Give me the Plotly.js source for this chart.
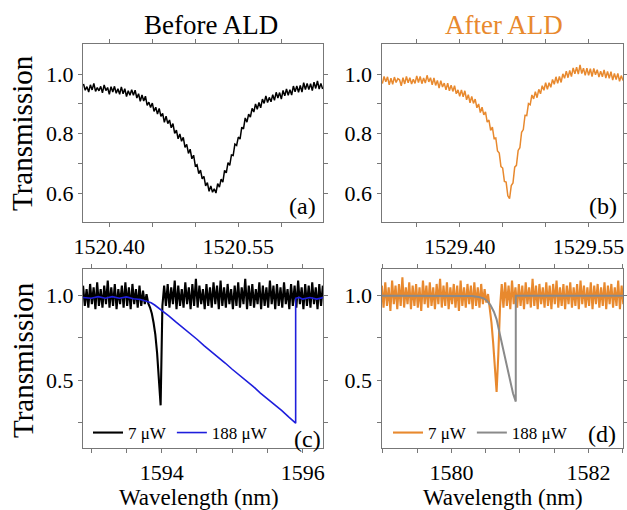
<!DOCTYPE html>
<html><head><meta charset="utf-8">
<script src="https://cdn.plot.ly/plotly-3.0.1.min.js"></script>
<style>html,body{margin:0;padding:0;background:#fff}</style>
</head><body><div id="chart" style="width:627px;height:510px"></div>
<script>
// ---- Panel (a): Before ALD, low power scan ----
const aX0 = 1520.370, aDX = 0.002;
const aTrans = [0.967,0.946,0.958,0.940,0.964,0.947,0.969,0.942,0.955,0.944,
0.959,0.937,0.964,0.945,0.955,0.932,0.958,0.940,0.959,0.936,
0.951,0.932,0.957,0.934,0.951,0.925,0.944,0.929,0.948,0.929,
0.946,0.920,0.934,0.909,0.930,0.910,0.926,0.895,0.906,0.888,
0.903,0.875,0.889,0.866,0.885,0.858,0.868,0.838,0.859,0.834,
0.846,0.820,0.834,0.801,0.812,0.783,0.799,0.775,0.788,0.754,
0.764,0.734,0.748,0.716,0.728,0.692,0.696,0.666,0.678,0.649,
0.657,0.625,0.636,0.607,0.625,0.604,0.615,0.601,0.633,0.621,
0.648,0.638,0.677,0.669,0.703,0.694,0.729,0.727,0.765,0.761,
0.789,0.782,0.822,0.816,0.853,0.839,0.866,0.856,0.885,0.873,
0.900,0.882,0.905,0.887,0.916,0.902,0.927,0.905,0.922,0.907,
0.931,0.912,0.939,0.920,0.938,0.916,0.945,0.927,0.950,0.929,
0.948,0.930,0.960,0.941,0.960,0.939,0.962,0.940,0.971,0.948,
0.969,0.948,0.968,0.945,0.973,0.952,0.977,0.950,0.969,0.950];

// ---- Panel (b): After ALD, low power scan ----
const bX0 = 1529.310, bDX = 0.002;
const bTrans = [0.968,0.992,0.974,0.991,0.964,0.986,0.966,0.990,0.972,0.985,
0.981,0.961,0.988,0.967,0.992,0.971,0.988,0.967,0.983,0.969,
0.994,0.972,0.992,0.968,0.987,0.970,0.996,0.974,0.988,0.964,
0.987,0.962,0.979,0.953,0.978,0.957,0.970,0.947,0.970,0.944,
0.963,0.942,0.961,0.934,0.947,0.926,0.947,0.924,0.944,0.914,
0.931,0.904,0.925,0.902,0.916,0.887,0.900,0.871,0.889,0.863,
0.873,0.839,0.846,0.811,0.822,0.784,0.786,0.742,0.735,0.690,
0.685,0.640,0.638,0.592,0.582,0.626,0.635,0.688,0.694,0.744,
0.753,0.805,0.814,0.862,0.861,0.901,0.897,0.930,0.917,0.941,
0.921,0.949,0.934,0.961,0.946,0.971,0.949,0.971,0.956,0.982,
0.966,0.991,0.969,0.992,0.972,1.001,0.986,1.010,0.988,1.012,
0.992,1.021,1.001,1.023,1.000,1.031,1.002,1.020,0.996,1.020,
0.996,1.018,0.992,1.019,0.998,1.015,0.990,1.010,0.991,1.014,
0.987,1.009,0.986,1.008,0.980,1.002,0.982,1.002,0.976,0.995,0.979];

// ---- Panel (c): Before ALD, 7 uW and 188 uW ----
const cX0 = 1592.885, cDX = 0.025;
const cLow = [1.06,0.94,1.04,0.93,1.07,0.95,1.05,0.92,1.08,0.94,
1.04,0.93,1.06,0.95,1.09,0.93,1.05,0.94,1.07,0.92,
1.04,0.95,1.06,0.93,1.08,0.94,1.05,0.92,1.07,0.95,
1.04,0.93,1.06,0.94,1.03,0.95,
1.01,0.955,0.93,0.895,0.84,0.77,0.66,0.53,0.35,0.94,1.06,
0.94,1.07,0.93,1.05,0.95,1.09,0.92,1.06,0.94,1.04,
0.93,1.08,0.95,1.05,0.92,1.07,0.94,1.10,0.93,1.06,
0.95,1.04,0.92,1.07,0.94,1.05,0.93,1.08,0.95,1.06,
0.92,1.09,0.94,1.05,0.93,1.07,0.95,1.04,0.92,1.06,
0.94,1.08,0.93,1.05,0.95,1.10,0.92,1.06,0.94,1.07,
0.93,1.04,0.95,1.08,0.92,1.06,0.94,1.05,0.93,1.09,
0.95,1.06,0.92,1.07,0.94,1.05,0.93,1.08,0.95,1.04,
0.92,1.07,0.94,1.06,0.93,1.09,0.95,1.05,0.92,1.07,
0.94,1.06,0.93,1.08,0.95,1.05,0.92,1.07,0.94,1.06];
const cHighWl = [1592.885,1593.0,1593.1,1593.2,1593.3,1593.4,1593.5,1593.6,1593.7,1593.75,1593.8,1593.85,1593.9,1593.95,1594.0,1594.05,
1594.1,1594.2,1594.3,1594.4,1594.5,1594.6,1594.7,1594.8,1594.9,1595.0,1595.1,1595.2,1595.3,1595.4,1595.5,1595.6,1595.7,1595.8,1595.9,
1595.9,1595.95,1596.0,1596.1,1596.2,1596.29];
const cHigh = [0.99,0.985,0.995,0.985,0.995,0.985,0.993,0.982,0.978,0.972,0.965,0.958,0.945,0.93,0.915,0.898,
0.881,0.845,0.812,0.775,0.742,0.704,0.671,0.634,0.601,0.564,0.531,0.493,0.461,0.423,0.390,0.352,0.320,0.281,0.244,
0.985,0.99,0.98,0.99,0.98,0.99];

// ---- Panel (d): After ALD, 7 uW and 188 uW ----
const dX0 = 1578.985, dDX = 0.025;
const dLow = [1.06,0.93,1.08,0.94,1.05,0.91,1.09,0.95,1.06,0.92,
1.07,0.94,1.11,0.93,1.05,0.95,1.08,0.92,1.06,0.94,
1.07,0.93,1.05,0.91,1.09,0.95,1.06,0.93,1.08,0.94,
1.05,0.92,1.07,0.95,1.10,0.93,1.06,0.94,1.08,0.92,
1.05,0.95,1.07,0.93,1.06,0.91,1.09,0.94,1.05,0.93,
1.07,0.95,1.06,0.92,1.08,0.94,1.05,0.93,1.07,
0.95,1.04,0.96,1.01,0.93,0.84,0.72,0.57,0.43,0.65,0.93,1.07,
0.93,1.08,0.94,1.06,0.92,1.09,0.95,1.05,0.93,1.07,
0.94,1.06,0.92,1.08,0.95,1.05,0.93,1.10,0.94,1.06,
0.92,1.07,0.95,1.05,0.93,1.08,0.94,1.06,0.92,1.07,
0.95,1.09,0.93,1.05,0.94,1.07,0.92,1.06,0.95,1.08,
0.93,1.05,0.94,1.07,0.92,1.09,0.95,1.06,0.93,1.05,
0.94,1.08,0.92,1.06,0.95,1.07,0.93,1.05,0.94,1.08,
0.92,1.06,0.95,1.07,0.93,1.05,0.94,1.09,0.92,1.06,
0.95];
const dHighWl = [1578.98,1579.5,1580.0,1580.3,1580.4,1580.47,1580.52,1580.57,1580.62,1580.66,1580.71,1580.76,1580.79,1580.83,1580.86,1580.90,1580.94,
1580.94,1581.0,1581.5,1582.0,1582.51];
const dHigh = [1.0,1.0,1.0,0.998,0.993,0.985,0.97,0.945,0.905,0.86,0.767,0.68,0.61,0.545,0.49,0.42,0.372,
1.0,1.0,1.0,1.0,1.0];

const labelsLow = '7 \u03bcW', labelsHigh = '188 \u03bcW';

const ORANGE = '#E8892E', BLUE = '#1E1EDC', GRAY = '#8A8A8A';
const SERIF = 'Liberation Serif';

const traces = [
  {type:'scatter', mode:'lines', x0:aX0, dx:aDX, y:aTrans, xaxis:'x', yaxis:'y', line:{color:'#000', width:1.5}, showlegend:false, hoverinfo:'skip'},
  {type:'scatter', mode:'lines', x0:bX0, dx:bDX, y:bTrans, xaxis:'x2', yaxis:'y2', line:{color:ORANGE, width:1.5}, showlegend:false, hoverinfo:'skip'},
  {type:'scatter', mode:'lines', x0:cX0, dx:cDX, y:cLow, xaxis:'x3', yaxis:'y3', name:labelsLow, legend:'legend', line:{color:'#000', width:2.1}},
  {type:'scatter', mode:'lines', x:cHighWl, y:cHigh, xaxis:'x3', yaxis:'y3', name:labelsHigh, legend:'legend', line:{color:BLUE, width:1.6}},
  {type:'scatter', mode:'lines', x0:dX0, dx:dDX, y:dLow, xaxis:'x4', yaxis:'y4', name:labelsLow, legend:'legend2', line:{color:ORANGE, width:2.1}},
  {type:'scatter', mode:'lines', x:dHighWl, y:dHigh, xaxis:'x4', yaxis:'y4', name:labelsHigh, legend:'legend2', line:{color:GRAY, width:2}}
];

function axis(domain, range, tickvals, ticktext, anchor) {
  return {domain:domain, range:range, tickmode:'array', tickvals:tickvals, ticktext:ticktext,
    ticks:'outside', ticklen:4, tickcolor:'#777', tickwidth:1, showline:true, linecolor:'#777', linewidth:1,
    mirror:'ticks', showgrid:false, zeroline:false, anchor:anchor,
    tickfont:{family:SERIF, size:22, color:'#000'}};
}
const W = 627, H = 510;
const xL = [83/W, 323.3/W], xR = [381.5/W, 623/W];
const yT = [1-222.3/H, 1-44.3/H], yB = [1-448.3/H, 1-269.3/H];

function legendStyle(x) {
  return {orientation:'h', x:x, y:1-433/H, xanchor:'left', yanchor:'middle',
    bgcolor:'rgba(0,0,0,0)', font:{family:SERIF, size:17, color:'#000'}, itemclick:false, traceorder:'normal'};
}

function ann(text, x, y, size, color, angle) {
  return {text:text, x:x/W, y:1-y/H, xref:'paper', yref:'paper',
    xanchor:'center', yanchor:'middle', showarrow:false, textangle:angle||0,
    font:{family:SERIF, size:size, color:color||'#000'}};
}

const layout = {
  width:W, height:H, margin:{l:0,r:0,t:0,b:0}, paper_bgcolor:'#fff', plot_bgcolor:'#fff', showlegend:true,
  font:{family:SERIF, color:'#000'},
  xaxis: axis(xL, [1520.3694, 1520.6488], [1520.40,1520.45,1520.50,1520.55,1520.60], ['1520.40','','','1520.55',''], 'y'),
  yaxis: axis(yT, [0.503, 1.1], [0.6,0.7,0.8,0.9,1.0], ['0.6','','0.8','','1.0'], 'x'),
  xaxis2: axis(xR, [1529.309, 1529.590], [1529.35,1529.40,1529.45,1529.50,1529.55], ['','1529.40','','','1529.55'], 'y2'),
  yaxis2: axis(yT, [0.503, 1.1], [0.6,0.7,0.8,0.9,1.0], ['0.6','','0.8','','1.0'], 'x2'),
  xaxis3: axis(xL, [1592.884, 1596.292], [1593,1593.5,1594,1594.5,1595,1595.5,1596], ['','','1594','','','','1596'], 'y3'),
  yaxis3: axis(yB, [0.095, 1.157], [0.25,0.5,0.75,1.0], ['','0.5','','1.0'], 'x3'),
  xaxis4: axis(xR, [1578.98, 1582.505], [1579,1579.5,1580,1580.5,1581,1581.5,1582,1582.5], ['','','1580','','','','1582',''], 'y4'),
  yaxis4: axis(yB, [0.095, 1.157], [0.25,0.5,0.75,1.0], ['','0.5','','1.0'], 'x4'),
  legend: legendStyle(88/W),
  legend2: legendStyle(388/W),
  annotations: [
    ann('Before ALD', 211, 25, 27),
    ann('After ALD', 504, 25, 27, ORANGE),
    ann('Transmission', 22, 133, 29, '#000', -90),
    ann('Transmission', 23, 360, 29, '#000', -90),
    ann('Wavelength (nm)', 199, 497, 23),
    ann('Wavelength (nm)', 503, 497, 23),
    ann('(a)', 302, 206, 24),
    ann('(b)', 603, 206, 24),
    ann('(c)', 307.5, 439, 24),
    ann('(d)', 601.5, 434, 24)
  ]
};

Plotly.newPlot('chart', traces, layout, {staticPlot:true, displayModeBar:false});
</script>
</body></html>
